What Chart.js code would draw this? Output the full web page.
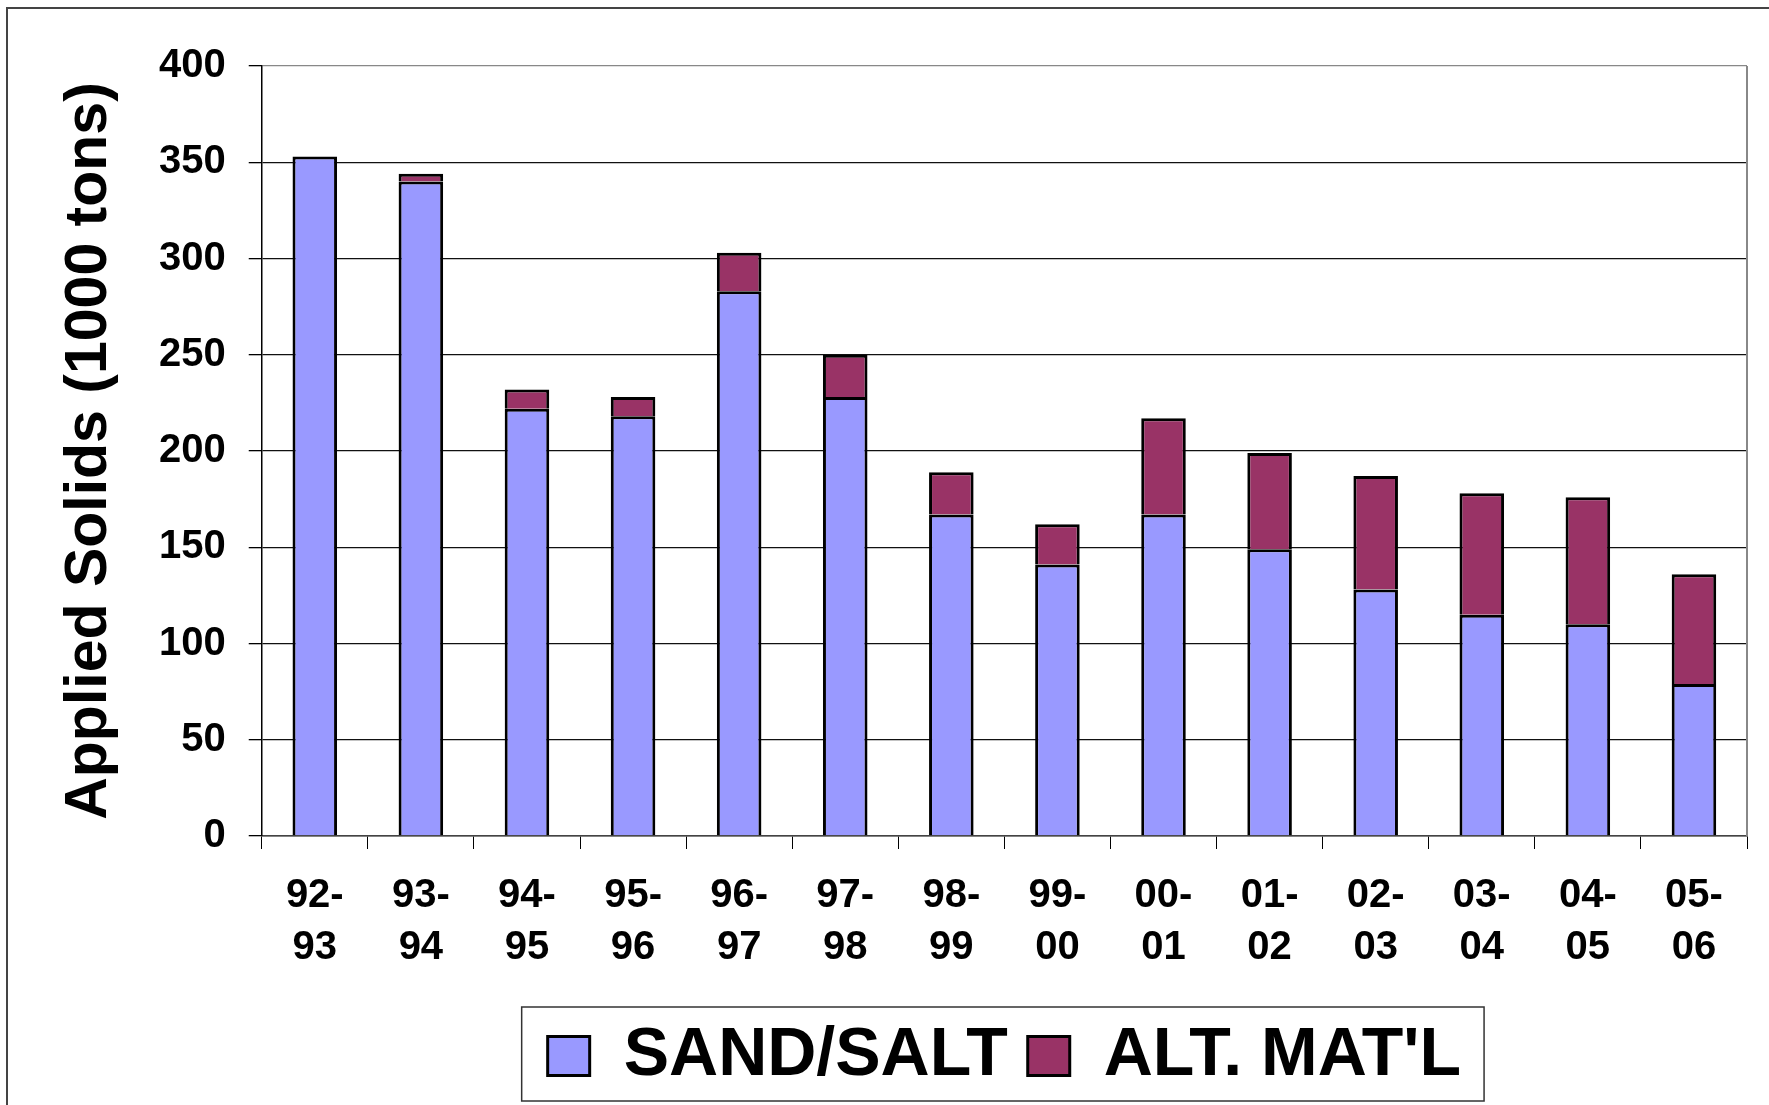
<!DOCTYPE html>
<html>
<head>
<meta charset="utf-8">
<title>Applied Solids</title>
<script src="https://cdn.jsdelivr.net/npm/chart.js@4/dist/chart.umd.min.js"></script>
<style>
  html, body { margin: 0; padding: 0; background: #fff; overflow: hidden; }
  #frame { position: absolute; left: 6px; top: 7px; width: 1900px; height: 1300px;
           border-left: 2px solid #444; border-top: 2px solid #444; }
  #wrap { position: absolute; left: 0; top: 0; width: 1769px; height: 1105px; }
</style>
</head>
<body>
<div id="frame"></div>
<div id="wrap"><canvas id="chart"></canvas></div>
<script>
var seasons = ['92-93', '93-94', '94-95', '95-96', '96-97', '97-98', '98-99',
               '99-00', '00-01', '01-02', '02-03', '03-04', '04-05', '05-06'];
var sandSalt = [353, 340, 222, 218, 283, 228, 167, 141, 167, 149, 128, 115, 110, 79];
var altMatl  = [0, 4, 10, 10, 20, 22, 22, 21, 50, 50, 59, 63, 66, 57];

Chart.defaults.font.family = '"Liberation Sans", Arial, sans-serif';
Chart.defaults.font.weight = 'bold';
Chart.defaults.color = '#000';

// right frame of plot area + box round the legend
var framePlugin = {
  id: 'frame',
  afterDraw: function(chart) {
    var ctx = chart.ctx, a = chart.chartArea, lg = chart.legend;
    ctx.save();
    ctx.strokeStyle = '#888';
    ctx.lineWidth = 2;
    ctx.beginPath();
    ctx.moveTo(a.right, a.top);
    ctx.lineTo(a.right, a.bottom);
    ctx.stroke();

    var opts = lg.options.labels;
    var pad = opts.padding, fs = opts.font.size;
    var itemsW = lg.lineWidths[0] - pad;
    var cx = (lg.left + lg.right) / 2;
    var mid = lg.top + pad + fs / 2;
    var left = cx - itemsW / 2 - 26, right = cx + itemsW / 2 + 23;
    ctx.strokeStyle = '#333';
    ctx.lineWidth = 1.5;
    ctx.strokeRect(left, mid - 49, right - left, 94);
    ctx.restore();
  }
};

var ctx = document.getElementById('chart').getContext('2d');
var chart = new Chart(ctx, {
  type: 'bar',
  data: {
    labels: seasons,
    datasets: [{
      label: 'SAND/SALT',
      data: sandSalt,
      backgroundColor: '#9999FF',
      borderColor: '#000',
      borderWidth: 3
    }, {
      label: "ALT. MAT'L",
      data: altMatl,
      backgroundColor: '#993366',
      borderColor: '#000',
      borderWidth: 3
    }]
  },
  options: {
    responsive: true,
    maintainAspectRatio: false,
    animation: false,
    datasets: { bar: { categoryPercentage: 1, barPercentage: 0.42 } },
    layout: { padding: { left: 60, right: 22, top: 66, bottom: 5 } },
    plugins: {
      tooltip: { enabled: false },
      legend: {
        position: 'bottom',
        fullSize: false,
        labels: {
          font: { size: 68, weight: 'bold' },
          color: '#000',
          boxWidth: 42,
          boxHeight: 39,
          padding: 20
        }
      }
    },
    scales: {
      x: {
        stacked: true,
        grid: { drawOnChartArea: false, tickLength: 13, tickColor: '#000', offset: true },
        border: { color: '#444', width: 1.5 },
        ticks: {
          font: { size: 40, weight: 'bold', lineHeight: 1.3 },
          padding: 21,
          maxRotation: 0,
          autoSkip: false,
          callback: function(v) {
            var p = seasons[v].split('-');
            return [p[0] + '-', p[1]];
          }
        },
        afterFit: function(s) { s.height = 166; }
      },
      y: {
        stacked: true,
        min: 0,
        max: 400,
        ticks: { stepSize: 50, font: { size: 40, weight: 'bold' }, padding: 23 },
        grid: {
          color: function(c) { return c.tick && c.tick.value === 400 ? '#888' : '#111'; },
          lineWidth: 1.3,
          tickLength: 13,
          tickColor: '#000'
        },
        border: { color: '#000', width: 1.5 },
        title: {
          display: true,
          text: 'Applied Solids (1000 tons)',
          font: { size: 59, weight: 'bold', lineHeight: 1 },
          padding: { top: 0, bottom: 17 }
        }
      }
    }
  },
  plugins: [framePlugin]
});
</script>
</body>
</html>
